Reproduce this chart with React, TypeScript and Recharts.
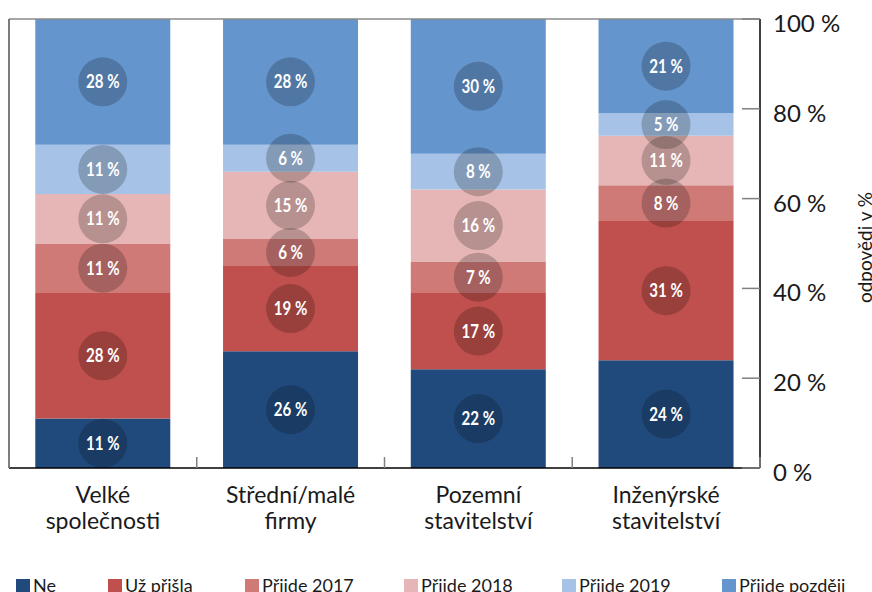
import React from "react";
import { BarChart, Bar, XAxis, YAxis, Legend, LabelList } from "recharts";

// Categories (explicit line breaks as in the original labels)
const categories = [
  "Velké\nspolečnosti",
  "Střední/malé\nfirmy",
  "Pozemní\nstavitelství",
  "Inženýrské\nstavitelství",
];

// Series values in % (bottom to top)
const ne = [11, 26, 22, 24];
const uzPrisla = [28, 19, 17, 31];
const prijde2017 = [11, 6, 7, 8];
const prijde2018 = [11, 15, 16, 11];
const prijde2019 = [11, 6, 8, 5];
const prijdePozdeji = [28, 28, 30, 21];

const yTicks = [0, 20, 40, 60, 80, 100];

const series = [
  { key: "ne", name: "Ne", values: ne, color: "#214a7c" },
  { key: "uz", name: "Už přišla", values: uzPrisla, color: "#c0504d" },
  { key: "p2017", name: "Přijde 2017", values: prijde2017, color: "#cf7a77" },
  { key: "p2018", name: "Přijde 2018", values: prijde2018, color: "#e5b6b5" },
  { key: "p2019", name: "Přijde 2019", values: prijde2019, color: "#a6c2e6" },
  { key: "later", name: "Přijde později", values: prijdePozdeji, color: "#6595cd" },
];

const data = categories.map((name, i) => {
  const row: { [k: string]: any } = { name };
  series.forEach((s) => {
    row[s.key] = s.values[i];
  });
  return row;
});

const FONT = "Lato, 'Open Sans', sans-serif";

const CircleLabel = (props: any) => {
  const { x, y, width, height, value } = props;
  const cx = Number(x) + Number(width) / 2;
  const cy = Number(y) + Number(height) / 2;
  return (
    <g>
      <circle cx={cx} cy={cy} r={24.5} fill="#000" fillOpacity={0.2} />
      {/* condensed look: squeeze the bold text horizontally */}
      <g transform={`translate(${cx} ${cy + 6.5}) scale(0.84 1)`}>
        <text x={0} y={0} textAnchor="middle" fill="#fff" fontFamily={FONT} fontWeight="bold" fontSize={18}>
          {value} %
        </text>
      </g>
    </g>
  );
};

const CategoryTick = (props: any) => {
  const { x, y, payload, index } = props;
  const half = payload && payload.offset ? payload.offset : 93.9;
  const lines = String(payload.value).split("\n");
  return (
    <g>
      <line x1={x - half} x2={x - half} y1={y - 11} y2={y} stroke="#808080" strokeWidth={1.5} />
      {index === categories.length - 1 && (
        <line x1={x + half} x2={x + half} y1={y - 11} y2={y} stroke="#808080" strokeWidth={1.5} />
      )}
      {lines.map((l, i) => (
        <text key={i} x={x} y={y + 35 + i * 26} textAnchor="middle" fill="#1a1a1a" fontFamily={FONT} fontSize={23}>
          {l}
        </text>
      ))}
    </g>
  );
};

const PercentTick = (props: any) => {
  const { x, y, payload } = props;
  return (
    <g>
      <line x1={x - 31} x2={x - 13} y1={y} y2={y} stroke="#808080" strokeWidth={1.5} />
      <text x={x} y={y + 13} textAnchor="start" fill="#1a1a1a" fontFamily={FONT} fontSize={24}>
        {payload.value} %
      </text>
    </g>
  );
};

const legendLeft = [16, 108, 245, 404, 562, 722];

const LegendContent = () => (
  <div style={{ position: "relative", width: 872, height: 28 }}>
    {series.map((s, i) => (
      <div key={s.key} style={{ position: "absolute", left: legendLeft[i], top: 11, display: "flex", alignItems: "flex-start" }}>
        <div style={{ width: 14, height: 14, background: s.color, marginTop: 4 }} />
        <span style={{ marginLeft: 3, fontFamily: FONT, fontSize: 18, color: "#1a1a1a", lineHeight: "21px", whiteSpace: "nowrap" }}>
          {s.name}
        </span>
      </div>
    ))}
  </div>
);

export default function App() {
  return (
    <div style={{ position: "absolute", left: 0, top: 0, width: 872, height: 592, background: "#fff" }}>
      <BarChart
        width={872}
        height={592}
        data={data}
        margin={{ top: 19, right: 0, left: 9, bottom: 0 }}
        barCategoryGap="14%"
      >
        <XAxis
          dataKey="name"
          xAxisId="main"
          interval={0}
          height={96}
          tickSize={0}
          tickMargin={0}
          tickLine={false}
          axisLine={{ stroke: "#000", strokeWidth: 1.5 }}
          tick={<CategoryTick />}
        />
        <XAxis
          dataKey="name"
          xAxisId="top"
          orientation="top"
          mirror
          tick={false}
          tickLine={false}
          axisLine={{ stroke: "#8a8a8a", strokeWidth: 1.5 }}
        />
        <YAxis
          yAxisId="main"
          orientation="right"
          width={112}
          domain={[0, 100]}
          ticks={yTicks}
          tickSize={0}
          tickMargin={13}
          tickLine={false}
          axisLine={{ stroke: "#000", strokeWidth: 1.5 }}
          tick={<PercentTick />}
          label={{
            content: (p: any) => {
              const vb = p.viewBox || { x: 760, y: 19, width: 112, height: 449 };
              const cx = vb.x + vb.width - 8;
              const cy = vb.y + vb.height / 2 + 4;
              return (
                <text
                  x={cx}
                  y={cy}
                  transform={`rotate(-90 ${cx} ${cy})`}
                  textAnchor="middle"
                  dominantBaseline="central"
                  fill="#1a1a1a"
                  fontFamily={FONT}
                  fontSize={19}
                >
                  odpovědi v %
                </text>
              );
            },
          }}
        />
        <YAxis
          yAxisId="left"
          orientation="left"
          mirror
          domain={[0, 100]}
          tick={false}
          tickLine={false}
          axisLine={{ stroke: "#505050", strokeWidth: 1.5 }}
        />
        <Legend verticalAlign="bottom" align="left" wrapperStyle={{ left: 0 }} content={<LegendContent />} />
        {series.map((s) => (
          <Bar
            key={s.key}
            dataKey={s.key}
            name={s.name}
            stackId="a"
            xAxisId="main"
            yAxisId="main"
            fill={s.color}
            isAnimationActive={false}
          >
            <LabelList dataKey={s.key} content={<CircleLabel />} />
          </Bar>
        ))}
      </BarChart>
    </div>
  );
}
